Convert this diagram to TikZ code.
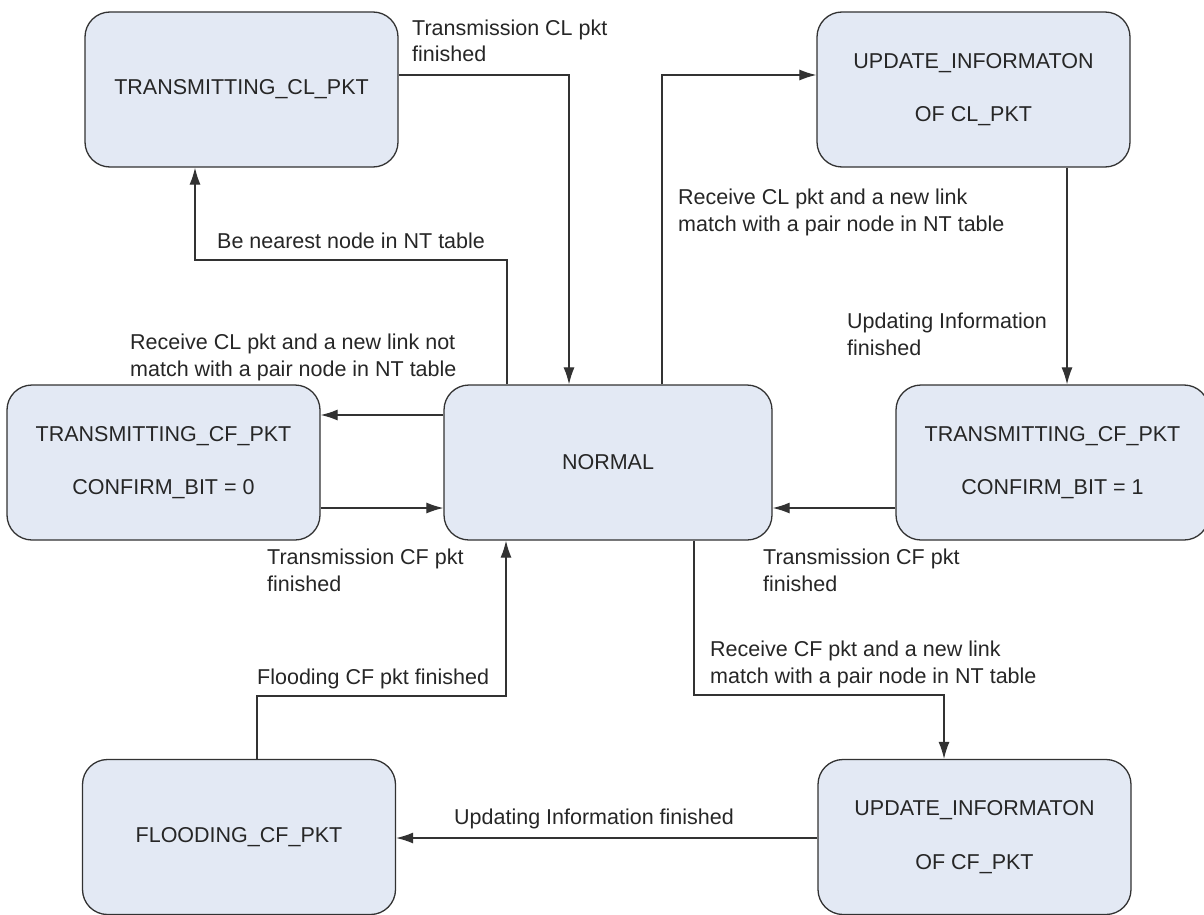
\documentclass[tikz,border=0pt]{standalone}
\usepackage{fontspec}
\setmainfont{Liberation Sans}
\usetikzlibrary{arrows.meta}
\definecolor{statefill}{RGB}{227,233,244}
\definecolor{edgegray}{RGB}{50,50,50}

\begin{document}
\begin{tikzpicture}[x=1pt,y=-1pt,>={Latex[length=17pt,width=11pt]},
  every node/.style={font=\fontsize{21.5}{26.5}\selectfont,text=black!85},
  state/.style={draw=edgegray,line width=1.3pt,fill=statefill,rounded corners=25pt,
    minimum width=313pt,minimum height=155pt,align=center,inner sep=0pt},
  conn/.style={->,draw=edgegray,line width=1.2pt},
  lbl/.style={anchor=base west,align=left,inner sep=0pt}]
\useasboundingbox (0,0) rectangle (1204,915);
\node[state] (tcl) at (241.5,89.5) {TRANSMITTING\_CL\_PKT};
\node[state] (ucl) at (973.5,89.5) {UPDATE\_INFORMATON\\[27pt]OF CL\_PKT};
\node[state] (tcf0) at (163.5,462.5) {TRANSMITTING\_CF\_PKT\\[27pt]CONFIRM\_BIT = 0};
\node[state,minimum width=328pt] (normal) at (608,462.5) {NORMAL};
\node[state] (tcf1) at (1052.5,462.5) {TRANSMITTING\_CF\_PKT\\[27pt]CONFIRM\_BIT = 1};
\node[state] (flood) at (239,837) {FLOODING\_CF\_PKT};
\node[state] (ucf) at (974.5,837) {UPDATE\_INFORMATON\\[27pt]OF CF\_PKT};

\draw[conn] (normal.north -| 507,0) -- (507,260) -- (195,260) -- (tcl.south -| 195,0);
\draw[conn] (tcl.east |- 0,75) -- (569,75) -- (normal.north -| 569,0);
\draw[conn] (normal.north -| 662,0) -- (662,75) -- (ucl.west |- 0,75);
\draw[conn] (ucl.south -| 1067,0) -- (tcf1.north -| 1067,0);
\draw[conn] (normal.west |- 0,415) -- (tcf0.east |- 0,415);
\draw[conn] (tcf0.east |- 0,508) -- (normal.west |- 0,508);
\draw[conn] (tcf1.west |- 0,508) -- (normal.east |- 0,508);
\draw[conn] (normal.south -| 694,0) -- (694,695) -- (944,695) -- (ucf.north -| 944,0);
\draw[conn] (ucf.west |- 0,838) -- (flood.east |- 0,838);
\draw[conn] (flood.north -| 257,0) -- (257,696) -- (506,696) -- (normal.south -| 506,0);

\node[lbl] (l1) at (217,248) {Be nearest node in NT table};
\node[lbl] (l2) at (412,62) {Transmission CL pkt\\ finished};
\node[lbl] (l3) at (678,231) {Receive CL pkt and a new link\\match with a pair node in NT table};
\node[lbl] (l4) at (847,355) {Updating Information\\finished};
\node[lbl] (l5) at (130,376) {Receive CL pkt and a new link not\\match with a pair node in NT table};
\node[lbl] (l6) at (267,591) {Transmission CF pkt\\ finished};
\node[lbl] (l7) at (763,591) {Transmission CF pkt\\ finished};
\node[lbl] (l8) at (710,683) {Receive CF pkt and a new link\\match with a pair node in NT table};
\node[lbl] (l9) at (454,824) {Updating Information finished};
\node[lbl] (l10) at (257,684) {Flooding CF pkt finished};
\end{tikzpicture}
\end{document}
